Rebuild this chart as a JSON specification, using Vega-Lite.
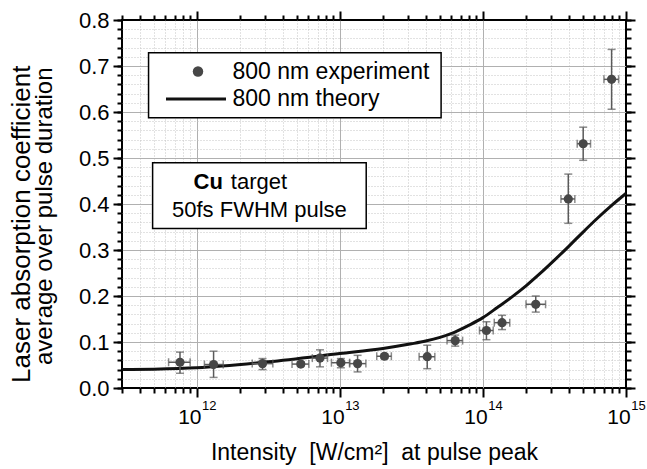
{
  "$schema": "https://vega.github.io/schema/vega-lite/v6.json",
  "width": 504,
  "height": 368,
  "autosize": "none",
  "padding": {"left": 122, "top": 20, "right": 21, "bottom": 81},
  "background": "white",
  "config": {
    "font": "Liberation Sans",
    "view": {"stroke": "#000000", "strokeWidth": 2},
    "axis": {"labelColor": "#000000", "titleColor": "#000000", "tickColor": "#000000", "tickOpacity": 1, "domain": false, "tickWidth": 2, "tickRound": true, "labelFont": "Liberation Sans", "titleFont": "Liberation Sans", "titleFontWeight": "normal", "labelFlush": false, "labelOverlap": false},
    "legend": {"padding": 0, "labelFont": "Liberation Sans", "labelFontSize": 23, "labelColor": "#000000", "labelLimit": 400}
  },
  "datasets": {
    "exp": [
      {"I": 7.63e11, "A": 0.056, "Ilo": 6.35e11, "Ihi": 8.98e11, "Alo": 0.032, "Ahi": 0.078},
      {"I": 1.31e12, "A": 0.051, "Ilo": 1.13e12, "Ihi": 1.53e12, "Alo": 0.023, "Ahi": 0.080},
      {"I": 2.88e12, "A": 0.053, "Ilo": 2.44e12, "Ihi": 3.40e12, "Alo": 0.040, "Ahi": 0.064},
      {"I": 5.33e12, "A": 0.052, "Ilo": 4.63e12, "Ihi": 6.07e12, "Alo": 0.047, "Ahi": 0.057},
      {"I": 7.26e12, "A": 0.065, "Ilo": 6.42e12, "Ihi": 8.2e12, "Alo": 0.046, "Ahi": 0.083},
      {"I": 1.016e13, "A": 0.055, "Ilo": 8.73e12, "Ihi": 1.17e13, "Alo": 0.044, "Ahi": 0.064},
      {"I": 1.33e13, "A": 0.053, "Ilo": 1.17e13, "Ihi": 1.52e13, "Alo": 0.035, "Ahi": 0.071},
      {"I": 2.05e13, "A": 0.069, "Ilo": 1.81e13, "Ihi": 2.29e13, "Alo": 0.064, "Ahi": 0.074},
      {"I": 4.08e13, "A": 0.068, "Ilo": 3.58e13, "Ihi": 4.61e13, "Alo": 0.042, "Ahi": 0.093},
      {"I": 6.40e13, "A": 0.103, "Ilo": 5.61e13, "Ihi": 7.21e13, "Alo": 0.091, "Ahi": 0.115},
      {"I": 1.058e14, "A": 0.125, "Ilo": 9.46e13, "Ihi": 1.18e14, "Alo": 0.105, "Ahi": 0.144},
      {"I": 1.36e14, "A": 0.142, "Ilo": 1.20e14, "Ihi": 1.54e14, "Alo": 0.127, "Ahi": 0.158},
      {"I": 2.34e14, "A": 0.182, "Ilo": 2.0e14, "Ihi": 2.74e14, "Alo": 0.165, "Ahi": 0.200},
      {"I": 3.95e14, "A": 0.411, "Ilo": 3.51e14, "Ihi": 4.39e14, "Alo": 0.358, "Ahi": 0.465},
      {"I": 5.02e14, "A": 0.531, "Ilo": 4.56e14, "Ihi": 5.65e14, "Alo": 0.495, "Ahi": 0.567},
      {"I": 7.93e14, "A": 0.671, "Ilo": 7.01e14, "Ihi": 8.88e14, "Alo": 0.606, "Ahi": 0.736}
    ],
    "theory": [
      {"I": 3e11, "A": 0.040},
      {"I": 5e11, "A": 0.041},
      {"I": 1e12, "A": 0.044},
      {"I": 3.16e12, "A": 0.057},
      {"I": 1e13, "A": 0.075},
      {"I": 2e13, "A": 0.086},
      {"I": 3.16e13, "A": 0.096},
      {"I": 3.98e13, "A": 0.102},
      {"I": 5.01e13, "A": 0.110},
      {"I": 6.31e13, "A": 0.121},
      {"I": 7.94e13, "A": 0.136},
      {"I": 1e14, "A": 0.153},
      {"I": 1.26e14, "A": 0.175},
      {"I": 1.58e14, "A": 0.197},
      {"I": 2e14, "A": 0.222},
      {"I": 2.51e14, "A": 0.249},
      {"I": 3.16e14, "A": 0.278},
      {"I": 3.98e14, "A": 0.308},
      {"I": 5.01e14, "A": 0.339},
      {"I": 6.31e14, "A": 0.369},
      {"I": 7.94e14, "A": 0.397},
      {"I": 1e15, "A": 0.423}
    ]
  },
  "resolve": {"axis": {"x": "independent", "y": "independent"}, "scale": {"color": "independent"}},
  "layer": [
    {
      "data": {"name": "theory"},
      "mark": {"type": "point", "opacity": 0},
      "encoding": {
        "x": {"field": "I", "type": "quantitative", "scale": {"type": "log", "domain": [3e11, 1e15], "nice": false},
          "axis": {"orient": "bottom", "values": [4e11, 5e11, 6e11, 7e11, 8e11, 9e11, 2e12, 3e12, 4e12, 5e12, 6e12, 7e12, 8e12, 9e12, 2e13, 3e13, 4e13, 5e13, 6e13, 7e13, 8e13, 9e13, 2e14, 3e14, 4e14, 5e14, 6e14, 7e14, 8e14, 9e14], "grid": true, "gridColor": "#c4c4c4", "gridDash": [1, 2], "gridWidth": 1, "ticks": false, "labels": false, "title": null}},
        "y": {"field": "A", "type": "quantitative", "scale": {"domain": [0, 0.8], "nice": false, "zero": false},
          "axis": {"orient": "left", "values": [0.02, 0.04, 0.06, 0.08, 0.12, 0.14, 0.16, 0.18, 0.22, 0.24, 0.26, 0.28, 0.32, 0.34, 0.36, 0.38, 0.42, 0.44, 0.46, 0.48, 0.52, 0.54, 0.56, 0.58, 0.62, 0.64, 0.66, 0.68, 0.72, 0.74, 0.76, 0.78], "grid": true, "gridColor": "#c4c4c4", "gridDash": [1, 2], "gridWidth": 1, "ticks": false, "labels": false, "title": null}}
      }
    },
    {
      "data": {"name": "theory"},
      "mark": {"type": "point", "opacity": 0},
      "encoding": {
        "x": {"field": "I", "type": "quantitative", "scale": {"type": "log", "domain": [3e11, 1e15], "nice": false},
          "axis": {"orient": "bottom", "values": [1e12, 1e13, 1e14], "grid": true, "gridColor": "#b0b0b0", "gridWidth": 1, "ticks": false, "labels": false, "title": null}},
        "y": {"field": "A", "type": "quantitative", "scale": {"domain": [0, 0.8], "nice": false, "zero": false},
          "axis": {"orient": "left", "values": [0.1, 0.2, 0.3, 0.4, 0.5, 0.6, 0.7], "grid": true, "gridColor": "#b0b0b0", "gridWidth": 1, "ticks": false, "labels": false, "title": null}}
      }
    },
    {
      "data": {"name": "theory"},
      "mark": {"type": "point", "opacity": 0},
      "encoding": {
        "x": {"field": "I", "type": "quantitative", "scale": {"type": "log", "domain": [3e11, 1e15], "nice": false},
          "axis": {"orient": "bottom", "values": [3e11, 4e11, 5e11, 6e11, 7e11, 8e11, 9e11, 2e12, 3e12, 4e12, 5e12, 6e12, 7e12, 8e12, 9e12, 2e13, 3e13, 4e13, 5e13, 6e13, 7e13, 8e13, 9e13, 2e14, 3e14, 4e14, 5e14, 6e14, 7e14, 8e14, 9e14], "grid": false, "ticks": true, "tickSize": 5, "tickColor": "#000000", "tickWidth": 2, "zindex": 1, "labels": false, "title": null}},
        "y": {"field": "A", "type": "quantitative", "scale": {"domain": [0, 0.8], "nice": false, "zero": false},
          "axis": {"orient": "left", "values": [0, 0.02, 0.04, 0.06, 0.08, 0.1, 0.12, 0.14, 0.16, 0.18, 0.2, 0.22, 0.24, 0.26, 0.28, 0.3, 0.32, 0.34, 0.36, 0.38, 0.4, 0.42, 0.44, 0.46, 0.48, 0.5, 0.52, 0.54, 0.56, 0.58, 0.6, 0.62, 0.64, 0.66, 0.68, 0.7, 0.72, 0.74, 0.76, 0.78, 0.8], "grid": false, "ticks": true, "tickSize": 5, "tickColor": "#000000", "tickWidth": 2, "zindex": 1, "labels": false,
            "title": "average over pulse duration", "titleFontSize": 24, "titleX": -71, "titleY": 47, "titleAlign": "right", "titleAngle": -90, "titleBaseline": "alphabetic"}}
      }
    },
    {
      "data": {"name": "theory"},
      "mark": {"type": "point", "opacity": 0},
      "encoding": {
        "x": {"field": "I", "type": "quantitative", "scale": {"type": "log", "domain": [3e11, 1e15], "nice": false},
          "axis": {"orient": "top", "values": [3e11, 4e11, 5e11, 6e11, 7e11, 8e11, 9e11, 2e12, 3e12, 4e12, 5e12, 6e12, 7e12, 8e12, 9e12, 2e13, 3e13, 4e13, 5e13, 6e13, 7e13, 8e13, 9e13, 2e14, 3e14, 4e14, 5e14, 6e14, 7e14, 8e14, 9e14], "grid": false, "ticks": true, "tickSize": 5, "tickColor": "#000000", "tickWidth": 2, "zindex": 1, "labels": false, "title": null}},
        "y": {"field": "A", "type": "quantitative", "scale": {"domain": [0, 0.8], "nice": false, "zero": false},
          "axis": {"orient": "right", "values": [0, 0.02, 0.04, 0.06, 0.08, 0.1, 0.12, 0.14, 0.16, 0.18, 0.2, 0.22, 0.24, 0.26, 0.28, 0.3, 0.32, 0.34, 0.36, 0.38, 0.4, 0.42, 0.44, 0.46, 0.48, 0.5, 0.52, 0.54, 0.56, 0.58, 0.6, 0.62, 0.64, 0.66, 0.68, 0.7, 0.72, 0.74, 0.76, 0.78, 0.8], "grid": false, "ticks": true, "tickSize": 5, "tickColor": "#000000", "tickWidth": 2, "zindex": 1, "labels": false, "title": null}}
      }
    },
    {
      "data": {"name": "theory"},
      "mark": {"type": "point", "opacity": 0},
      "encoding": {
        "x": {"field": "I", "type": "quantitative", "scale": {"type": "log", "domain": [3e11, 1e15], "nice": false},
          "axis": {"orient": "top", "values": [1e12, 1e13, 1e14, 1e15], "grid": false, "ticks": true, "tickSize": 9, "tickColor": "#000000", "tickWidth": 2, "zindex": 1, "labels": false, "title": null}},
        "y": {"field": "A", "type": "quantitative", "scale": {"domain": [0, 0.8], "nice": false, "zero": false},
          "axis": {"orient": "right", "values": [0, 0.1, 0.2, 0.3, 0.4, 0.5, 0.6, 0.7, 0.8], "grid": false, "ticks": true, "tickSize": 9, "tickColor": "#000000", "tickWidth": 2, "zindex": 1, "labels": false, "title": null}}
      }
    },
    {
      "data": {"name": "theory"},
      "mark": {"type": "point", "opacity": 0},
      "encoding": {
        "x": {"field": "I", "type": "quantitative", "scale": {"type": "log", "domain": [3e11, 1e15], "nice": false},
          "axis": {"orient": "bottom", "values": [1e12, 1e13, 1e14, 1e15], "grid": false, "ticks": false, "tickSize": 0, "labels": true, "labelExpr": "format(log(datum.value)/LN10, '.0f')", "labelFontSize": 13, "labelOffset": 12, "labelPadding": 21.6, "labelBaseline": "alphabetic", "title": null}},
        "y": {"field": "A", "type": "quantitative", "scale": {"domain": [0, 0.8], "nice": false, "zero": false}, "axis": null}
      }
    },
    {
      "data": {"values": [{}]},
      "mark": {"type": "rect", "fill": "#ffffff", "stroke": "#000000", "strokeWidth": 1.5},
      "encoding": {
        "x": {"datum": 4.60e11, "type": "quantitative", "scale": {"type": "log", "domain": [3e11, 1e15], "nice": false}, "axis": null},
        "x2": {"datum": 5.10e13},
        "y": {"datum": 0.7288, "type": "quantitative", "scale": {"domain": [0, 0.8], "nice": false, "zero": false}, "axis": null},
        "y2": {"datum": 0.5874}
      }
    },
    {
      "data": {"values": [{}]},
      "mark": {"type": "rect", "fill": "#ffffff", "stroke": "#000000", "strokeWidth": 1.5},
      "encoding": {
        "x": {"datum": 4.91e11, "type": "quantitative", "scale": {"type": "log", "domain": [3e11, 1e15], "nice": false}, "axis": null},
        "x2": {"datum": 1.528e13},
        "y": {"datum": 0.4895, "type": "quantitative", "scale": {"domain": [0, 0.8], "nice": false, "zero": false}, "axis": null},
        "y2": {"datum": 0.3468}
      }
    },
    {
      "data": {"values": [{}]},
      "mark": {"type": "text", "font": "Liberation Sans", "fontSize": 22, "fontWeight": "bold", "align": "right", "baseline": "alphabetic", "dx": -4, "color": "#000000"},
      "encoding": {
        "x": {"datum": 1.622e12, "type": "quantitative", "scale": {"type": "log", "domain": [3e11, 1e15], "nice": false}, "axis": null},
        "y": {"datum": 0.4316, "type": "quantitative", "scale": {"domain": [0, 0.8], "nice": false, "zero": false}, "axis": null},
        "text": {"value": "Cu"}
      }
    },
    {
      "data": {"values": [{}]},
      "mark": {"type": "text", "font": "Liberation Sans", "fontSize": 22, "align": "left", "baseline": "alphabetic", "dx": 4, "color": "#000000"},
      "encoding": {
        "x": {"datum": 1.622e12, "type": "quantitative", "scale": {"type": "log", "domain": [3e11, 1e15], "nice": false}, "axis": null},
        "y": {"datum": 0.4316, "type": "quantitative", "scale": {"domain": [0, 0.8], "nice": false, "zero": false}, "axis": null},
        "text": {"value": "target"}
      }
    },
    {
      "data": {"values": [{}]},
      "mark": {"type": "text", "font": "Liberation Sans", "fontSize": 22, "align": "center", "baseline": "alphabetic", "color": "#000000"},
      "encoding": {
        "x": {"datum": 2.74e12, "type": "quantitative", "scale": {"type": "log", "domain": [3e11, 1e15], "nice": false}, "axis": null},
        "y": {"datum": 0.3707, "type": "quantitative", "scale": {"domain": [0, 0.8], "nice": false, "zero": false}, "axis": null},
        "text": {"value": "50fs FWHM pulse"}
      }
    },
    {
      "data": {"name": "theory"},
      "mark": {"type": "line", "strokeWidth": 3, "interpolate": "monotone"},
      "encoding": {
        "x": {"field": "I", "type": "quantitative", "scale": {"type": "log", "domain": [3e11, 1e15], "nice": false},
          "axis": {"orient": "bottom", "values": [1e12, 1e13, 1e14, 1e15], "grid": false, "ticks": true, "tickSize": 9, "tickColor": "#000000", "tickWidth": 2, "zindex": 1, "labels": true, "labelExpr": "'10'", "labelFontSize": 21, "labelOffset": -7.5, "labelPadding": 26, "labelBaseline": "alphabetic",
            "title": "Intensity\u00a0\u00a0[W/cm²]\u00a0\u00a0at pulse peak", "titleFontSize": 23, "titleX": 252, "titleY": 71, "titleAlign": "center", "titleBaseline": "alphabetic"}},
        "y": {"field": "A", "type": "quantitative", "scale": {"domain": [0, 0.8], "nice": false, "zero": false},
          "axis": {"orient": "left", "values": [0, 0.1, 0.2, 0.3, 0.4, 0.5, 0.6, 0.7, 0.8], "format": ".1f", "grid": false, "ticks": true, "tickSize": 9, "tickColor": "#000000", "tickWidth": 2, "zindex": 1, "labels": true, "labelFontSize": 22, "labelPadding": 4,
            "title": "Laser absorption coefficient", "titleFontSize": 26, "titleX": -93, "titleY": 45, "titleAlign": "right", "titleAngle": -90, "titleBaseline": "alphabetic"}},
        "color": {"datum": "800 nm theory", "type": "nominal", "scale": {"domain": ["800 nm theory"], "range": ["#111111"]},
          "legend": {"title": null, "orient": "none", "legendX": 40, "legendY": 47.5, "symbolType": "stroke", "symbolSize": 3600, "symbolStrokeWidth": 3, "symbolOffset": 2.5, "labelOffset": 5}}
      }
    },
    {
      "data": {"name": "exp"},
      "mark": {"type": "errorbar", "ticks": true, "size": 8, "thickness": 1.5, "color": "#5a5a5a"},
      "encoding": {
        "x": {"field": "I", "type": "quantitative", "scale": {"type": "log", "domain": [3e11, 1e15], "nice": false}, "axis": null},
        "y": {"field": "Alo", "type": "quantitative", "scale": {"domain": [0, 0.8], "nice": false, "zero": false}, "axis": null},
        "y2": {"field": "Ahi"}
      }
    },
    {
      "data": {"name": "exp"},
      "mark": {"type": "errorbar", "ticks": true, "size": 8, "thickness": 1.5, "color": "#5a5a5a"},
      "encoding": {
        "x": {"field": "Ilo", "type": "quantitative", "scale": {"type": "log", "domain": [3e11, 1e15], "nice": false}, "axis": null},
        "x2": {"field": "Ihi"},
        "y": {"field": "A", "type": "quantitative", "scale": {"domain": [0, 0.8], "nice": false, "zero": false}, "axis": null}
      }
    },
    {
      "data": {"name": "exp"},
      "mark": {"type": "point", "filled": true, "opacity": 1, "size": 85},
      "encoding": {
        "x": {"field": "I", "type": "quantitative", "scale": {"type": "log", "domain": [3e11, 1e15], "nice": false}, "axis": null},
        "y": {"field": "A", "type": "quantitative", "scale": {"domain": [0, 0.8], "nice": false, "zero": false}, "axis": null},
        "color": {"datum": "800 nm experiment", "type": "nominal", "scale": {"domain": ["800 nm experiment"], "range": ["#474747"]},
          "legend": {"title": null, "orient": "none", "legendX": 40, "legendY": 40, "symbolSize": 110, "symbolStrokeWidth": 0, "symbolOffset": 24.5, "labelOffset": 23}}
      }
    }
  ]
}
